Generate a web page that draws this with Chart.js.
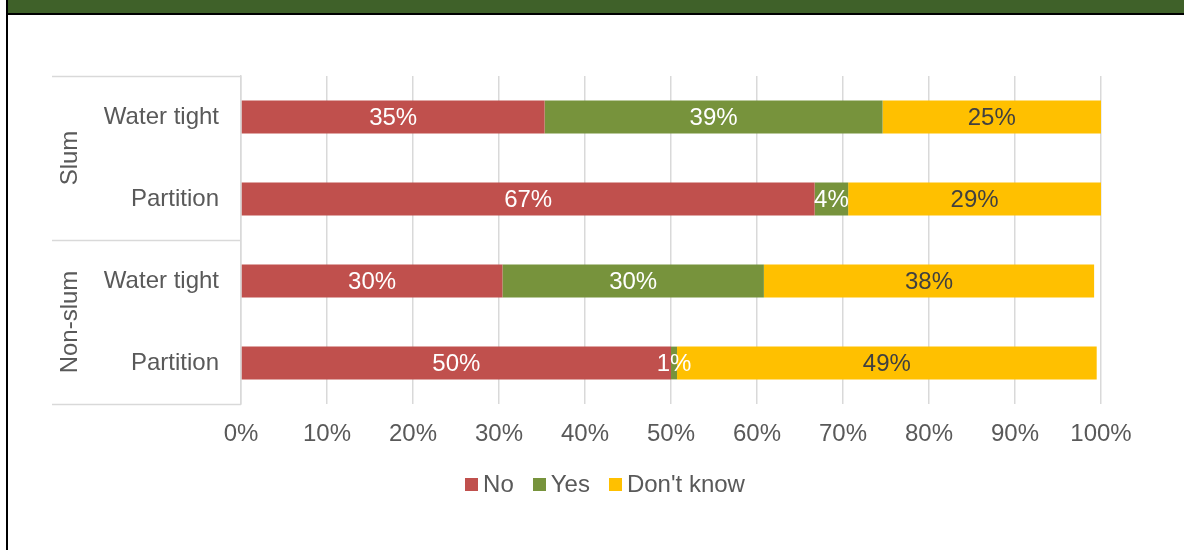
<!DOCTYPE html>
<html>
<head>
<meta charset="utf-8">
<script src="https://cdn.jsdelivr.net/npm/chart.js@4.4.1/dist/chart.umd.min.js"></script>
<style>
  html, body { margin: 0; padding: 0; background: #fff; overflow: hidden; width: 1184px; height: 550px; }
  #frame { position: absolute; left: 6px; top: 0; width: 1200px; height: 600px; border-left: 2px solid #000; }
  #band { height: 13px; background: #3F6129; border-bottom: 2px solid #000; }
  #wrap { position: absolute; left: 0; top: 0; width: 1184px; height: 550px; }
</style>
</head>
<body>
<div id="frame"><div id="band"></div></div>
<div id="wrap"><canvas id="chart" width="1184" height="550"></canvas></div>
<script>
// Housing groups and the wall types inside each group
const groups = ['Slum', 'Non-slum'];
const groupSizes = [2, 2];
const categories = ['Water tight', 'Partition', 'Water tight', 'Partition'];

// Share of answers (%) per wall type
const seriesNames = ['No', 'Yes', "Don't know"];
const noValues = [35.3, 66.7, 30.4, 50.0];
const yesValues = [39.3, 3.9, 30.4, 0.7];
const dontKnowValues = [25.4, 29.4, 38.4, 48.8];

// Value axis ticks (%)
const tickValues = [0, 10, 20, 30, 40, 50, 60, 70, 80, 90, 100];

const FONT_FAMILY = '"Liberation Sans", Arial, sans-serif';
const TEXT_GREY = '#595959';
const GRID_GREY = '#D9D9D9';

// Percent labels centred on every bar segment
const segmentLabels = {
  id: 'segmentLabels',
  afterDatasetsDraw(chart) {
    const ctx = chart.ctx;
    ctx.save();
    ctx.font = '24px ' + FONT_FAMILY;
    ctx.textAlign = 'center';
    ctx.textBaseline = 'middle';
    chart.data.datasets.forEach((ds, i) => {
      const meta = chart.getDatasetMeta(i);
      meta.data.forEach((bar, j) => {
        const v = ds.data[j];
        const p = bar.getProps(['x', 'y', 'base'], true);
        ctx.fillStyle = ds.labelColor;
        ctx.fillText(Math.round(v) + '%', (p.x + p.base) / 2, p.y + 1);
      });
    });
    ctx.restore();
  }
};

// Outer group labels (rotated) with their bracket lines on the category axis
const groupAxis = {
  id: 'groupAxis',
  afterDraw(chart, args, opts) {
    const { ctx, chartArea, scales } = chart;
    const y = scales.y;
    const left = chartArea.left - opts.extent;
    ctx.save();
    ctx.strokeStyle = GRID_GREY;
    ctx.lineWidth = 1.5;
    let start = 0;
    const edges = [y.getPixelForValue(-0.5)];
    groupSizes.forEach(n => { start += n; edges.push(y.getPixelForValue(start - 0.5)); });
    edges.forEach(py => {
      const yy = Math.round(py) + 0.5;
      ctx.beginPath();
      ctx.moveTo(left, yy);
      ctx.lineTo(chartArea.left, yy);
      ctx.stroke();
    });
    ctx.fillStyle = TEXT_GREY;
    ctx.font = '24px ' + FONT_FAMILY;
    ctx.textAlign = 'center';
    ctx.textBaseline = 'middle';
    groups.forEach((g, i) => {
      const cy = (edges[i] + edges[i + 1]) / 2;
      ctx.save();
      ctx.translate(left + opts.labelOffset, cy);
      ctx.rotate(-Math.PI / 2);
      ctx.fillText(g, 0, 0);
      ctx.restore();
    });
    ctx.restore();
  }
};

// Single-row legend under the value axis
const legendRow = {
  id: 'legendRow',
  afterDraw(chart, args, opts) {
    const ctx = chart.ctx;
    ctx.save();
    ctx.font = '24px ' + FONT_FAMILY;
    ctx.textBaseline = 'middle';
    ctx.textAlign = 'left';
    const items = chart.data.datasets.map(ds => ({
      text: ds.label, color: ds.backgroundColor, w: ctx.measureText(ds.label).width
    }));
    const total = items.reduce((s, it) => s + opts.box + opts.gap + it.w, 0) + opts.spacing * (items.length - 1);
    let x = opts.centerX - total / 2;
    const cy = chart.chartArea.bottom + opts.offsetY;
    items.forEach(it => {
      ctx.fillStyle = it.color;
      ctx.fillRect(Math.round(x), Math.round(cy - opts.box / 2), opts.box, opts.box);
      ctx.fillStyle = TEXT_GREY;
      ctx.fillText(it.text, x + opts.box + opts.gap, cy + 1);
      x += opts.box + opts.gap + it.w + opts.spacing;
    });
    ctx.restore();
  }
};

const X_AXIS_HEIGHT = 46;

new Chart(document.getElementById('chart'), {
  type: 'bar',
  data: {
    labels: categories,
    datasets: [
      { label: seriesNames[0], data: noValues, backgroundColor: '#C0504D', labelColor: '#FFFFFF' },
      { label: seriesNames[1], data: yesValues, backgroundColor: '#77933C', labelColor: '#FFFFFF' },
      { label: seriesNames[2], data: dontKnowValues, backgroundColor: '#FFC000', labelColor: '#404040' }
    ]
  },
  options: {
    indexAxis: 'y',
    responsive: false,
    animation: false,
    devicePixelRatio: 1,
    layout: { padding: { top: 76, right: 83, left: 0, bottom: 146 - X_AXIS_HEIGHT } },
    datasets: { bar: { barPercentage: 0.4, categoryPercentage: 1, borderWidth: 0 } },
    scales: {
      x: {
        stacked: true,
        min: 0,
        max: 100,
        afterBuildTicks(scale) { scale.ticks = tickValues.map(v => ({ value: v })); },
        afterFit(scale) { scale.height = X_AXIS_HEIGHT; },
        grid: { color: GRID_GREY, lineWidth: 1.5, drawTicks: false },
        border: { display: false },
        ticks: {
          padding: 16,
          color: TEXT_GREY,
          font: { family: FONT_FAMILY, size: 24 },
          callback: v => v + '%'
        }
      },
      y: {
        stacked: true,
        afterFit(scale) { scale.width = 241; },
        grid: { display: false, drawTicks: false },
        border: { display: true, color: GRID_GREY, width: 1.5 },
        ticks: {
          padding: 22,
          color: TEXT_GREY,
          font: { family: FONT_FAMILY, size: 24 }
        }
      }
    },
    plugins: {
      legend: { display: false },
      tooltip: { enabled: false },
      groupAxis: { extent: 189, labelOffset: 18 },
      legendRow: { centerX: 605, offsetY: 80.5, box: 13, gap: 5, spacing: 19 }
    }
  },
  plugins: [segmentLabels, groupAxis, legendRow]
});
</script>
</body>
</html>
